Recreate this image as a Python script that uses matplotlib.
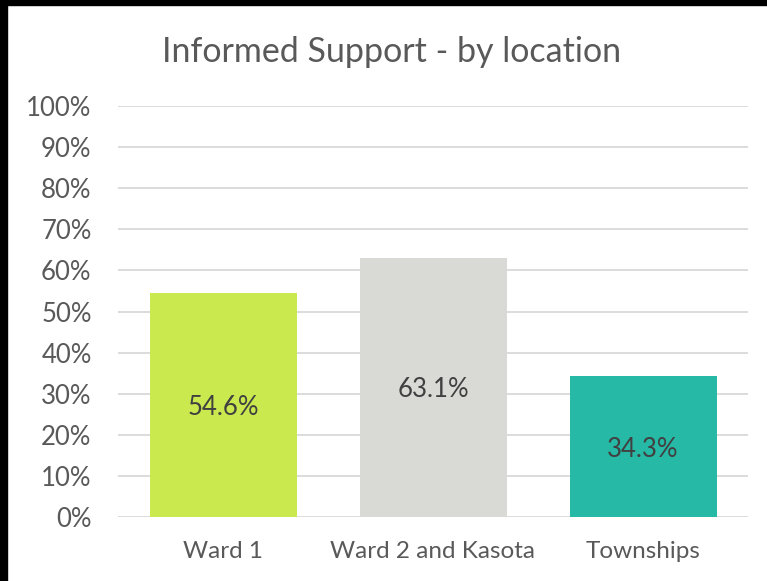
import numpy as np
import matplotlib
matplotlib.use('Agg')
import matplotlib.pyplot as plt
from matplotlib.patches import Rectangle

# data
locations = ['Ward 1', 'Ward 2 and Kasota', 'Townships']
support = [0.546, 0.631, 0.343]
bar_colors = ['#C9E94F', '#D9D9D6', '#26B9A6']
y_ticks = np.arange(0, 1.01, 0.1)

text_grey = '#595959'
plt.rcParams['font.family'] = ['Lato', 'DejaVu Sans']

fig = plt.figure(figsize=(7.67, 5.81), dpi=100)
fig.patch.set_facecolor('white')
ax = fig.add_axes([118 / 767, 1 - 517 / 581, 630 / 767, 411 / 581])

x = np.arange(len(locations))
bars = ax.bar(x, support, width=0.7, color=bar_colors, zorder=3)

for b, v in zip(bars, support):
    ax.text(b.get_x() + b.get_width() / 2, v / 2, '{:.1f}%'.format(v * 100),
            ha='center', va='center_baseline', fontsize=18.5, color='#404040', zorder=4)

ax.set_xlim(-0.5, len(locations) - 0.5)
ax.set_ylim(0, 1)
ax.set_yticks(y_ticks)
ax.set_yticklabels(['{:.0f}%'.format(t * 100) for t in y_ticks])
ax.set_xticks(x)
ax.set_xticklabels(locations)
ax.tick_params(axis='y', length=0, pad=19, labelsize=18.5, labelcolor=text_grey)
ax.tick_params(axis='x', length=0, pad=17, labelsize=17.5, labelcolor=text_grey)

ax.grid(axis='y', color='#D9D9D9', linewidth=1.3, zorder=0)
for s in ax.spines.values():
    s.set_visible(False)

fig.text(392 / 767, 1 - 52 / 581, 'Informed Support - by location',
         ha='center', va='center', fontsize=24.5, color=text_grey)

# black frame on the top and left edges, as in the screenshot
fig.add_artist(Rectangle((0, 0), 7 / 767, 1, transform=fig.transFigure,
                         color='black', zorder=10))
fig.add_artist(Rectangle((0, 1 - 5 / 581), 1, 5 / 581, transform=fig.transFigure,
                         color='black', zorder=10))

fig.savefig('out.png', dpi=100)
